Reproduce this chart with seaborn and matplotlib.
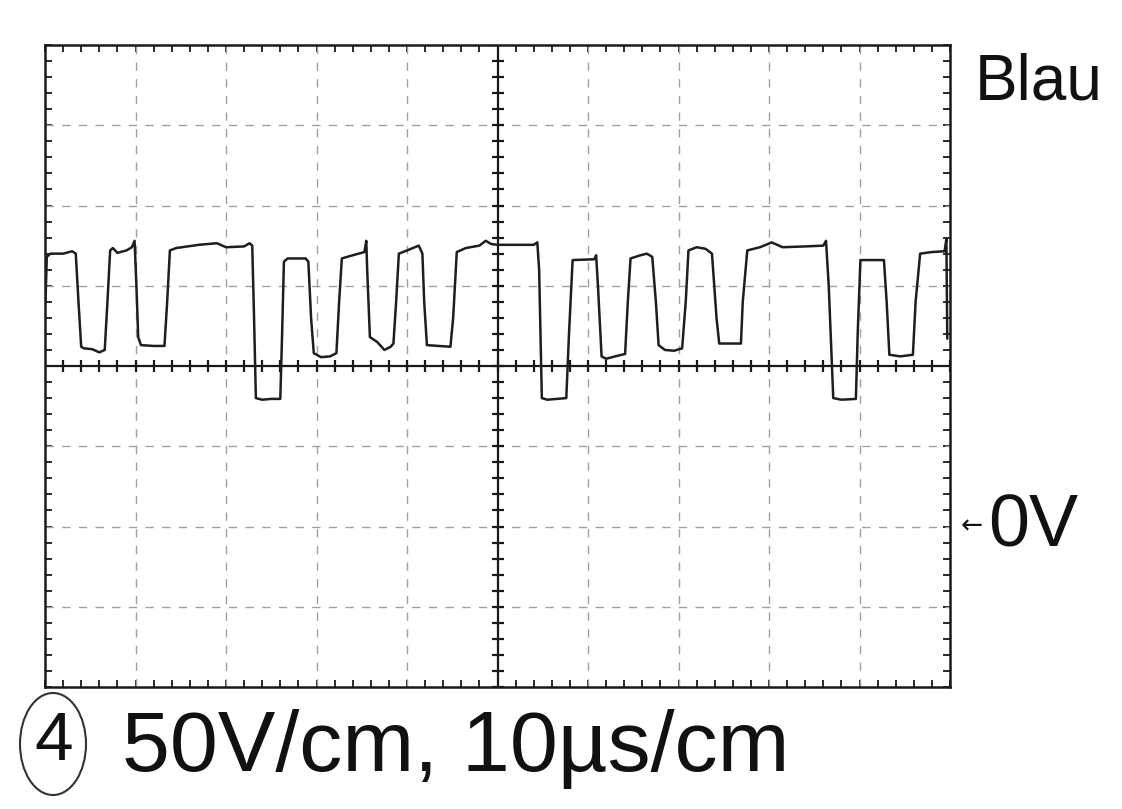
import numpy as np
import pandas as pd
import matplotlib
matplotlib.use("Agg")
import matplotlib.pyplot as plt
from matplotlib.patches import Ellipse
import seaborn as sns

# Oscilloscope trace: time in microseconds, voltage in volts
t_us = [0.05, 0.2, 0.6, 2.0, 3.0, 3.4, 3.7, 4.0, 4.3, 5.2, 6.0, 6.6, 6.9, 7.2, 7.5, 8.0,
        9.0, 9.6, 9.9, 10.1, 10.3, 10.6, 12.0, 13.2, 13.5, 13.8, 14.5, 17.0, 19.0, 20.0,
        22.0, 22.6, 22.9, 23.1, 23.3, 24.0, 25.0, 26.0, 26.2, 26.4, 26.8, 28.8, 29.1, 29.4,
        29.7, 30.5, 31.5, 32.2, 32.5, 32.8, 34.0, 35.3, 35.5, 35.6, 35.9, 36.7, 37.5, 38.2,
        38.5, 38.8, 39.1, 40.0, 41.3, 41.7, 41.9, 42.2, 44.8, 45.1, 45.5, 46.5, 48.0, 48.7,
        49.3, 50.0, 54.0, 54.4, 54.6, 54.9, 55.5, 57.6, 57.9, 58.3, 60.7, 60.9, 61.1, 61.5,
        62.0, 63.0, 64.1, 64.4, 64.7, 65.8, 66.5, 67.1, 67.5, 67.8, 68.5, 69.5, 70.4, 70.8,
        71.1, 72.0, 73.0, 73.7, 74.2, 74.5, 76.9, 77.1, 77.6, 79.0, 80.3, 81.5, 84.0, 86.0,
        86.3, 86.6, 87.1, 88.0, 89.6, 89.8, 90.1, 92.7, 93.0, 93.3, 94.5, 95.9, 96.2, 96.7,
        98.0, 99.4, 99.6, 99.7]
u_volt = [140, 168, 170, 170, 171.5, 170, 140, 112, 111, 110.5, 108.5, 110, 140, 172, 173.5, 170.5,
          172, 174, 178, 150, 118, 113, 112.5, 112.5, 140, 172, 173.5, 175.5, 176.5, 174,
          174.5, 176.5, 175, 130, 80, 79, 79.5, 79.5, 120, 165, 167, 167, 165, 130,
          108, 105.5, 106, 108, 140, 167, 169, 171, 178, 160, 118, 115, 110, 112,
          114, 140, 170, 172, 175, 170, 140, 113, 112, 130, 171, 173.5, 175, 178,
          176, 175.5, 175.5, 177, 160, 80, 79, 80, 120, 166, 166.5, 169, 150, 106,
          104.5, 106, 107.5, 140, 167, 169, 170, 168, 140, 113, 110, 109.5, 111, 140,
          172, 174, 173, 170, 130, 114, 114, 140, 172, 174, 177, 174, 174.5, 175,
          178, 150, 80, 79, 79.5, 120, 166, 166, 140, 107, 106, 107, 140, 170,
          171, 171.5, 179, 117]

x_div = 10.0   # µs per division
y_div = 50.0   # V per division
x_range = (0, 100)
y_range = (-100, 300)
center_x, center_y = 50, 100

scope_label = "50V/cm, 10µs/cm"
channel_label = "Blau"
ground_label = "0V"
panel_number = "4"

sns.set_theme(style="white")
plt.rcParams["font.family"] = ["Liberation Sans", "DejaVu Sans"]

fig = plt.figure(figsize=(11.22, 8.09), dpi=100)
ax = fig.add_axes([45 / 1122, 1 - 687 / 809, 905 / 1122, 642 / 809])

df = pd.DataFrame({"t": t_us, "u": u_volt})
sns.lineplot(data=df, x="t", y="u", sort=False, estimator=None, ax=ax,
             color="#1e1e1e", linewidth=1.8, zorder=5)

ax.set_xlim(*x_range)
ax.set_ylim(*y_range)

# dashed graticule
for gx in np.arange(x_range[0] + x_div, x_range[1], x_div):
    if gx != center_x:
        ax.axvline(gx, color="#a0a0a0", lw=1.0, ls=(0, (6, 6)), zorder=1)
for gy in np.arange(y_range[0] + y_div, y_range[1], y_div):
    if gy != center_y:
        ax.axhline(gy, color="#a0a0a0", lw=1.0, ls=(0, (6, 6)), zorder=1)

# solid centre cross with sub-division marks
ax.axvline(center_x, color="#1a1a1a", lw=1.6, zorder=3)
ax.axhline(center_y, color="#1a1a1a", lw=1.6, zorder=3)
sub_x = np.arange(x_range[0], x_range[1] + 0.01, x_div / 5)
sub_y = np.arange(y_range[0], y_range[1] + 0.01, y_div / 5)
ax.plot(sub_x, np.full_like(sub_x, center_y), ls="none", marker="|", ms=9,
        mew=1.6, color="#1a1a1a", zorder=3, clip_on=True)
ax.plot(np.full_like(sub_y, center_x), sub_y, ls="none", marker="_", ms=9,
        mew=1.6, color="#1a1a1a", zorder=3, clip_on=True)

# frame with inward sub-division ticks
for s in ax.spines.values():
    s.set_visible(True)
    s.set_color("#1a1a1a")
    s.set_linewidth(1.8)
ax.set_xticks(sub_x)
ax.set_yticks(sub_y)
ax.tick_params(axis="both", which="major", direction="in", length=5, width=1.3,
               color="#1a1a1a", top=True, right=True, bottom=True, left=True,
               labelbottom=False, labelleft=False)
ax.set_xlabel("")
ax.set_ylabel("")
ax.grid(False)

# annotations
fig.text(975 / 1122, 1 - 82 / 809, channel_label, fontsize=46, ha="left", va="center",
         color="#111111")
fig.text(961 / 1122, 1 - 527 / 809, "←", fontsize=19, ha="left", va="center",
         family=["DejaVu Sans"], color="#111111")
fig.text(988 / 1122, 1 - 527 / 809, ground_label, fontsize=53, ha="left", va="center",
         color="#111111")
fig.text(122 / 1122, 1 - 771 / 809, scope_label, fontsize=62, ha="left", va="baseline",
         color="#111111")
fig.patches.append(Ellipse((53 / 1122, 1 - 744 / 809), 66 / 1122, 102 / 809,
                           transform=fig.transFigure, fill=False, lw=1.5,
                           edgecolor="#333333"))
fig.text(54 / 1122, 1 - 742 / 809, panel_number, fontsize=50, ha="center", va="center",
         color="#111111")

fig.savefig("out.png", dpi=100, facecolor="white")
